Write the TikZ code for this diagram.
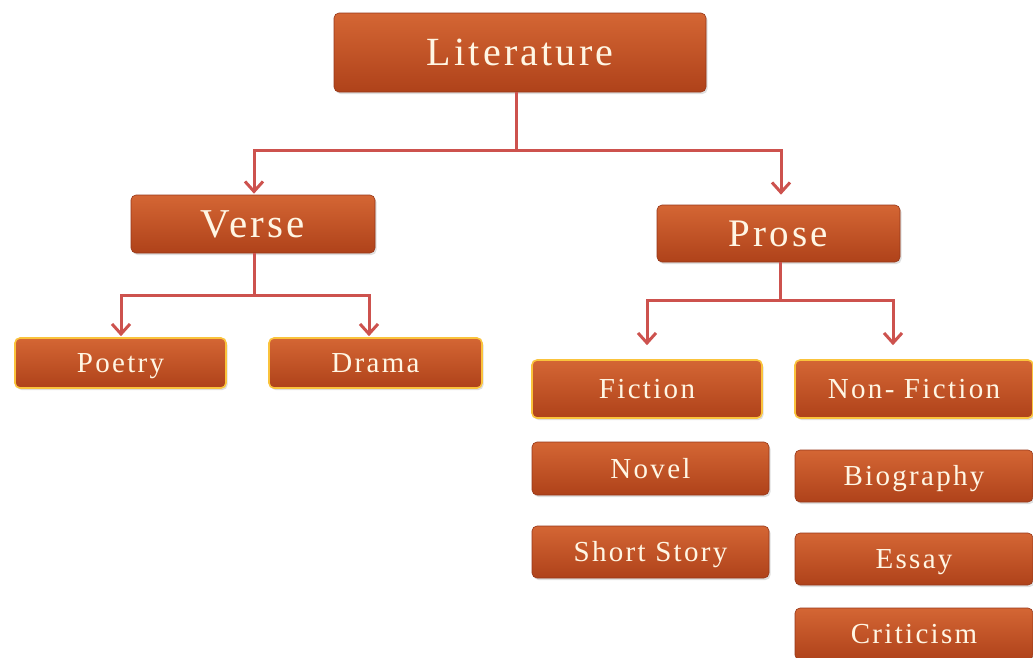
\documentclass[tikz,border=0pt]{standalone}
\usepackage{fontspec}
\setmainfont[LetterSpace=8]{Liberation Serif}
\usetikzlibrary{arrows.meta,shadows}
\definecolor{boxtop}{RGB}{212,102,52}
\definecolor{boxbot}{RGB}{175,66,26}
\definecolor{boxedge}{RGB}{150,55,25}
\definecolor{glow}{RGB}{250,195,60}
\definecolor{linecol}{RGB}{205,82,78}
\definecolor{txt}{RGB}{255,246,228}
\tikzset{
  box/.style={rounded corners=5pt, top color=boxtop, bottom color=boxbot, draw=boxedge, line width=0.6pt,
    text=txt, inner sep=0pt, text depth=0pt,
    drop shadow={opacity=0.25, shadow xshift=1.5pt, shadow yshift=-2pt}},
  glowbox/.style={box, draw=glow, line width=1.6pt},
  big/.style={font=\fontsize{29}{32}\selectfont, text height=19pt},
  conn/.style={draw=linecol, line width=3pt},
  arr/.style={conn, -{Straight Barb[length=10pt,width=18pt]}},
}
\begin{document}
\begin{tikzpicture}[x=1pt,y=-1pt]
\useasboundingbox (0,0) rectangle (1033,657);
\node[box, minimum width=372pt, minimum height=79pt, font=\fontsize{40}{44}\selectfont, text height=26.5pt] (lit) at (520,52.5) {Literature};
\node[box, minimum width=244pt, minimum height=58pt, font=\fontsize{41}{44}\selectfont, text height=27pt] (verse) at (253,224) {Verse};
\node[box, minimum width=243pt, minimum height=57pt, font=\fontsize{39}{44}\selectfont, text height=26pt] (prose) at (778.5,233.5) {Prose};
\node[glowbox, big, minimum width=211pt, minimum height=50pt] (poe) at (120.5,363) {Poetry};
\node[glowbox, big, minimum width=213pt, minimum height=50pt] (dra) at (375.5,363) {Drama};
\node[glowbox, big, minimum width=230pt, minimum height=58pt] (fic) at (647,389) {Fiction};
\node[glowbox, big, minimum width=238pt, minimum height=58pt] (nf) at (914,389) {Non- Fiction};
\node[box, big, minimum width=237pt, minimum height=53pt] (nov) at (650.5,468.5) {Novel};
\node[box, big, minimum width=237pt, minimum height=52pt] (ss) at (650.5,552) {Short Story};
\node[box, big, minimum width=238pt, minimum height=52pt] (bio) at (914,476) {Biography};
\node[box, big, minimum width=238pt, minimum height=52pt] (ess) at (914,559) {Essay};
\node[box, big, minimum width=238pt, minimum height=52pt] (cri) at (914,634) {Criticism};
% connectors
\coordinate (j1) at (516,150);
\coordinate (j2) at (254,295);
\coordinate (j3) at (780,300);
\draw[conn] (lit.south -| j1) -- (j1);
\draw[arr] (j1) -| ([xshift=1pt,yshift=1pt]verse.north);
\draw[arr] (j1) -| ([xshift=2.5pt,yshift=10pt]prose.north);
\draw[conn] (verse.south -| j2) -- (j2);
\draw[arr] (j2) -| ([xshift=0.5pt,yshift=1pt]poe.north);
\draw[arr] (j2) -| ([xshift=-6.5pt,yshift=1pt]dra.north);
\draw[conn] (prose.south -| j3) -- (j3);
\draw[arr] (j3) -| ([yshift=14pt]fic.north);
\draw[arr] (j3) -| ([xshift=-21pt,yshift=14pt]nf.north);
\end{tikzpicture}
\end{document}
